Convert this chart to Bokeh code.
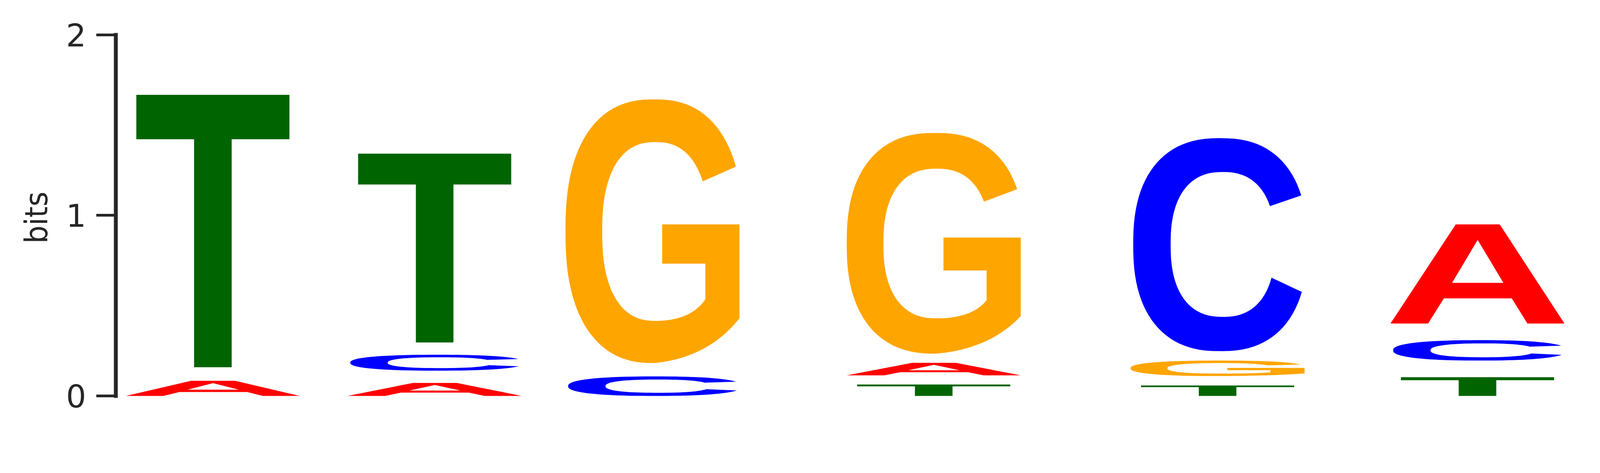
import numpy as np
from bokeh.plotting import figure
from bokeh.models import Range1d, ColumnDataSource, FixedTicker
from bokeh.embed import file_html
from bokeh.resources import INLINE

# sequence logo: letters per position, stacked bottom -> top, heights in bits
positions = [1.0, 2.007, 2.996, 4.273, 5.562, 6.742]
letters = [["A", "T"], ["A", "C", "T"], ["C", "G"],
           ["T", "A", "G"], ["T", "G", "C"], ["T", "C", "A"]]
heights = [[0.084, 1.509], [0.072, 0.088, 1.046], [0.108, 1.461],
           [0.063, 0.069, 1.223], [0.058, 0.086, 1.180], [0.104, 0.113, 0.549]]
gaps = [0.075, 0.068, 0.074, 0.051, 0.052, 0.092]
y_ticks = [0, 1, 2]

colors = {"A": "red", "C": "blue", "G": "orange", "T": "darkgreen"}
LETTER_W = 0.79
INK = "#262626"
SE = 2.4  # superellipse exponent for the round letters


def arc(cx, cy, rx, ry, a0, a1, n=90):
    t = np.radians(np.linspace(a0, a1, n))
    c, s = np.cos(t), np.sin(t)
    x = cx + rx * np.sign(c) * np.abs(c) ** (2 / SE)
    y = cy + ry * np.sign(s) * np.abs(s) ** (2 / SE)
    return list(zip(x, y))


def ang(v, cy, ry):
    # parameter angle (right half) where the superellipse reaches height v
    s = (v - cy) / ry
    return np.degrees(np.arcsin(np.sign(s) * np.abs(s) ** (SE / 2)))


def bez(p0, c, p2, n=30):
    t = np.linspace(0, 1, n)[1:]
    x = (1 - t) ** 2 * p0[0] + 2 * t * (1 - t) * c[0] + t ** 2 * p2[0]
    y = (1 - t) ** 2 * p0[1] + 2 * t * (1 - t) * c[1] + t ** 2 * p2[1]
    return list(zip(x, y))


# glyph outlines in a unit box (u across, v up), list of rings (outer first)
GLYPHS = {
    "T": [[(0.06, 1), (0.94, 1), (0.94, 0.837), (0.608, 0.837), (0.608, 0),
           (0.392, 0), (0.392, 0.837), (0.06, 0.837)]],
    "A": [[(0, 0), (0.216, 0), (0.307, 0.254), (0.697, 0.254), (0.787, 0),
           (1, 0), (0.628, 1), (0.375, 1)],
          [(0.354, 0.411), (0.649, 0.411), (0.501, 0.844)]],
    "C": [arc(0.515, 0.5, 0.5, 0.5, ang(0.731, 0.5, 0.5), 360 + ang(0.278, 0.5, 0.5))
          + arc(0.53, 0.501, 0.30, 0.34, 360 + ang(0.345, 0.501, 0.34), ang(0.681, 0.501, 0.34))],
    "G": [arc(0.51, 0.5, 0.51, 0.5, ang(0.745, 0.5, 0.5), 270)
          + bez((0.51, 0), (0.82, 0.02), (1.0, 0.17))
          + [(1.0, 0.526), (0.556, 0.526), (0.556, 0.377), (0.804, 0.377), (0.804, 0.242)]
          + bez((0.804, 0.242), (0.72, 0.16), (0.517, 0.16))
          + arc(0.517, 0.499, 0.306, 0.339, 270, ang(0.689, 0.499, 0.339))],
}

xs, ys, fills = [], [], []
for xc, col, hs, gap in zip(positions, letters, heights, gaps):
    bottom = 0.0
    for ch, h in zip(col, hs):
        rings_x, rings_y = [], []
        for ring in GLYPHS[ch]:
            u = np.array([pt[0] for pt in ring])
            v = np.array([pt[1] for pt in ring])
            rings_x.append(list(xc - LETTER_W / 2 + u * LETTER_W))
            rings_y.append(list(bottom + v * h))
        xs.append([rings_x])
        ys.append([rings_y])
        fills.append(colors[ch])
        bottom += h + gap

src = ColumnDataSource(dict(xs=xs, ys=ys, color=fills))

p = figure(width=4088, height=1188, output_backend="svg", toolbar_location=None,
           x_range=Range1d(0.5593, 7.285), y_range=Range1d(-0.173, 2.1492),
           min_border_left=296, min_border_right=0, min_border_top=20, min_border_bottom=94)
p.multi_polygons(xs="xs", ys="ys", fill_color="color", line_color=None, source=src)

p.xaxis.visible = False
p.grid.visible = False
p.outline_line_color = None
p.background_fill_color = "white"

ax = p.yaxis[0]
ax.ticker = FixedTicker(ticks=y_ticks)
ax.bounds = (0, 2)
ax.axis_label = "bits"
ax.axis_label_text_font = "DejaVu Sans Condensed, DejaVu Sans"
ax.axis_label_text_font_size = "81px"
ax.axis_label_text_font_style = "normal"
ax.axis_label_text_color = INK
ax.axis_label_standoff = 26
ax.major_label_text_font = "DejaVu Sans"
ax.major_label_text_font_size = "81px"
ax.major_label_text_color = INK
ax.major_label_standoff = 26
ax.axis_line_color = INK
ax.axis_line_width = 10
ax.axis_line_cap = "square"
ax.major_tick_line_color = INK
ax.major_tick_line_width = 7
ax.major_tick_in = 0
ax.major_tick_out = 50
ax.minor_tick_line_color = None

open("out.html", "w").write(file_html(p, INLINE))
